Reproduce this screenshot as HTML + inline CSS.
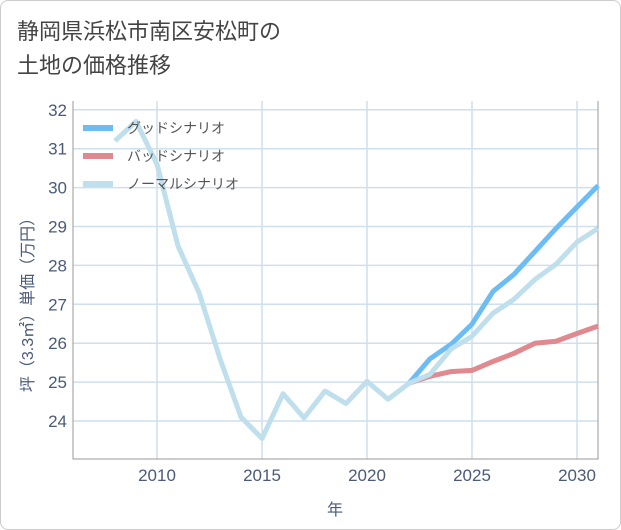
<!DOCTYPE html>
<html><head><meta charset="utf-8"><style>
body{margin:0;background:#fff;}
.wrap{position:relative;width:619px;height:528px;border:1px solid #ccc;border-radius:8px;background:#fff;overflow:hidden;}
.title{position:absolute;left:16px;top:14px;font:22px/34px "Liberation Sans","Noto Sans CJK JP",sans-serif;color:#444;}
svg{position:absolute;left:0;top:0;}
text{font-family:"Liberation Sans","Noto Sans CJK JP",sans-serif;}
</style></head><body>
<div class="wrap">
<div class="title">静岡県浜松市南区安松町の<br>土地の価格推移</div>
<svg id="chart" width="621" height="530"></svg>
</div>
<script>
const years=[2008,2009,2010,2011,2012,2013,2014,2015,2016,2017,2018,2019,2020,2021,2022,2023,2024,2025,2026,2027,2028,2029,2030,2031];
const normal=[31.2,31.7,30.6,28.5,27.3,25.6,24.1,23.55,24.7,24.08,24.77,24.45,25.02,24.56,24.97,25.2,25.85,26.18,26.77,27.13,27.64,28.03,28.6,28.95];
const fYears=[2022,2023,2024,2025,2026,2027,2028,2029,2030,2031];
const good=[24.97,25.6,25.97,26.49,27.33,27.77,28.36,28.95,29.5,30.05];
const bad=[24.97,25.15,25.27,25.3,25.53,25.74,26.0,26.05,26.25,26.44];
const xTicks=[2010,2015,2020,2025,2030];
const yTicks=[24,25,26,27,28,29,30,31,32];
const L=72,R=597,T=100,B=458;
const x=v=>156+(v-2010)*21;
const y=v=>420-(v-24)*38.9;
const svg=document.getElementById('chart');
const NS='http://www.w3.org/2000/svg';
function mk(t,a){const e=document.createElementNS(NS,t);for(const k in a)e.setAttribute(k,a[k]);svg.appendChild(e);return e;}
for(const t of yTicks){const g=mk('line',{x1:L,x2:R,y1:y(t),y2:y(t),stroke:'#cfdfec','stroke-width':1.5});


const l=mk('text',{x:L-6,y:y(t)+6,'text-anchor':'end','font-size':17,fill:'#4a5a78'});l.textContent=t;

}
for(const t of xTicks){const g=mk('line',{x1:x(t),x2:x(t),y1:T,y2:B,stroke:'#cfdfec','stroke-width':1.5});


const l=mk('text',{x:x(t),y:B+22,'text-anchor':'middle','font-size':17,fill:'#4a5a78'});l.textContent=t;

}
const ax=mk('path',{d:`M${L},${T}V${B}H${R}V${T}`,fill:'none',stroke:'#999','stroke-width':1});


function series(xs,ys,c,n){const p=mk('polyline',{points:xs.map((v,i)=>x(v)+','+y(ys[i])).join(' '),fill:'none',stroke:c,'stroke-width':5,'stroke-linejoin':'round'});

}
series(fYears,bad,'#e0898f','bad-scenario-line');
series(fYears,good,'#6dbdf4','good-scenario-line');
series(years,normal,'#bfdfec','normal-scenario-line');
const leg=[['グッドシナリオ','#6dbdf4'],['バッドシナリオ','#e0898f'],['ノーマルシナリオ','#bfdfec']];
leg.forEach((d,i)=>{const yy=127+i*28;
const s=mk('line',{x1:82,x2:112,y1:yy,y2:yy,stroke:d[1],'stroke-width':6});


const t=mk('text',{x:126,y:yy+5,'font-size':14,fill:'#555'});t.textContent=d[0];

});
const xt=mk('text',{x:334,y:514,'text-anchor':'middle','font-size':16,fill:'#4a5a78'});xt.textContent='年';


const yt=mk('text',{x:0,y:0,'text-anchor':'middle','font-size':16,fill:'#4a5a78',transform:'translate(32,300) rotate(-90)'});yt.textContent='坪（3.3㎡）単価（万円）';


</script>
</body></html>
